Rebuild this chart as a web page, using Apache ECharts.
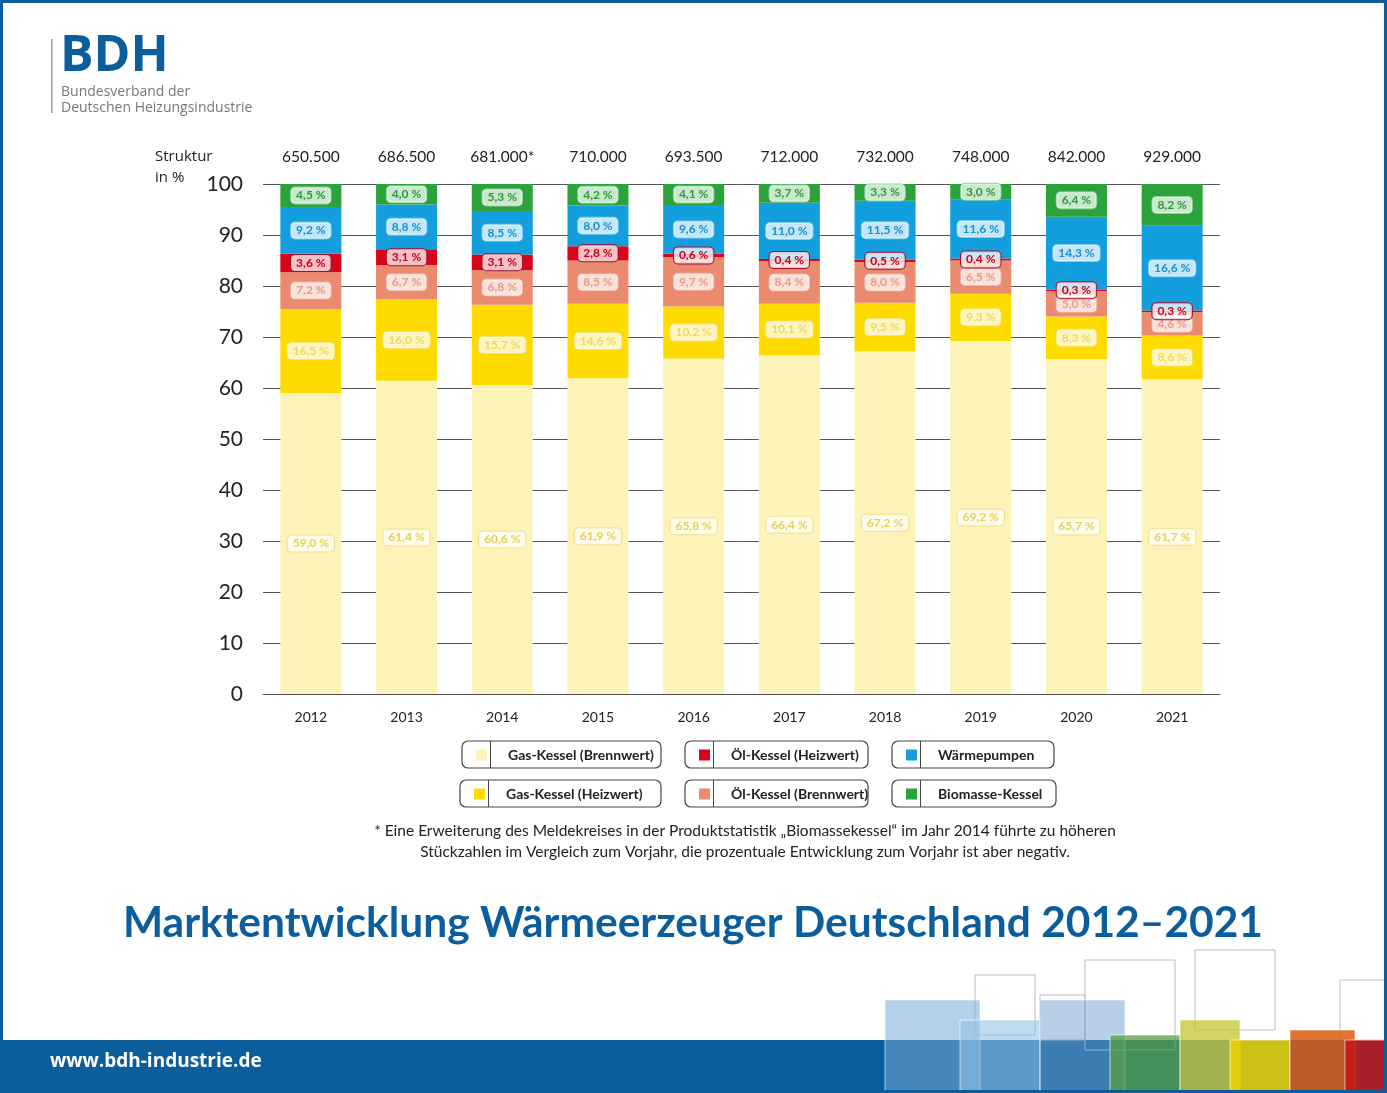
<!DOCTYPE html>
<html>
<head>
<meta charset="utf-8">
<script src="https://cdn.jsdelivr.net/npm/echarts@6/dist/echarts.min.js"></script>
<style>
  html, body { margin: 0; padding: 0; background: #fff; }
  #chart { width: 1387px; height: 1093px; }
</style>
</head>
<body>
<div id="chart"></div>
<script>
// Daten
var years = ['2012', '2013', '2014', '2015', '2016', '2017', '2018', '2019', '2020', '2021'];
var totals = ['650.500', '686.500', '681.000*', '710.000', '693.500', '712.000', '732.000', '748.000', '842.000', '929.000'];
var gasBrennwert = [59.0, 61.4, 60.6, 61.9, 65.8, 66.4, 67.2, 69.2, 65.7, 61.7];
var gasHeizwert = [16.5, 16.0, 15.7, 14.6, 10.2, 10.1, 9.5, 9.3, 8.3, 8.6];
var oelBrennwert = [7.2, 6.7, 6.8, 8.5, 9.7, 8.4, 8.0, 6.5, 5.0, 4.6];
var oelHeizwert = [3.6, 3.1, 3.1, 2.8, 0.6, 0.4, 0.5, 0.4, 0.3, 0.3];
var waermepumpen = [9.2, 8.8, 8.5, 8.0, 9.6, 11.0, 11.5, 11.6, 14.3, 16.6];
var biomasse = [4.5, 4.0, 5.3, 4.2, 4.1, 3.7, 3.3, 3.0, 6.4, 8.2];

var fontFamily = 'Lato, "Open Sans", sans-serif';
var blue = '#0b5d9b';

var seriesDefs = [
  {name: 'Gas-Kessel (Brennwert)', data: gasBrennwert, color: '#fdf2b8', text: '#e6cf5a', border: '#f3e08a'},
  {name: 'Gas-Kessel (Heizwert)', data: gasHeizwert, color: '#ffdc00', text: '#eed76a', border: '#f6e27a'},
  {name: 'Öl-Kessel (Brennwert)', data: oelBrennwert, color: '#ea8b6f', text: '#e79a86', border: '#f1b3a3'},
  {name: 'Öl-Kessel (Heizwert)', data: oelHeizwert, color: '#d9041b', text: '#c4001f', border: '#a01030'},
  {name: 'Wärmepumpen', data: waermepumpen, color: '#139fde', text: '#1a8fd2', border: '#7ccaf0'},
  {name: 'Biomasse-Kessel', data: biomasse, color: '#2ba33a', text: '#2f9a3c', border: '#8fd09a'}
];

// Legende: Position der Kästen
var legendBoxes = [
  {name: 'Gas-Kessel (Brennwert)', x: 462, y: 741, w: 199},
  {name: 'Öl-Kessel (Heizwert)', x: 685, y: 741, w: 183},
  {name: 'Wärmepumpen', x: 892, y: 741, w: 162},
  {name: 'Gas-Kessel (Heizwert)', x: 460, y: 780, w: 201},
  {name: 'Öl-Kessel (Brennwert)', x: 685, y: 780, w: 183},
  {name: 'Biomasse-Kessel', x: 892, y: 780, w: 164}
];

var chart = echarts.init(document.getElementById('chart'), null, {renderer: 'canvas'});

var series = seriesDefs.map(function (s) {
  return {
    name: s.name,
    type: 'bar',
    stack: 'total',
    barWidth: 61,
    data: s.data,
    itemStyle: {color: s.color},
    label: {
      show: true,
      position: 'inside',
      formatter: function (p) { return String(p.value.toFixed(1)).replace('.', ',') + ' %'; },
      color: s.text,
      fontFamily: fontFamily,
      fontSize: 12,
      fontWeight: 'bold',
      backgroundColor: 'rgba(255,255,255,0.75)',
      borderColor: s.border,
      borderWidth: 1,
      borderRadius: 4,
      padding: [2, 5]
    }
  };
});

var graphics = [
  // Rahmen
  {type: 'rect', shape: {x: 1.5, y: 1.5, width: 1384, height: 1090}, style: {fill: 'none', stroke: blue, lineWidth: 3}, z: 10},
  // Logo
  {type: 'rect', shape: {x: 51, y: 39, width: 1.5, height: 74}, style: {fill: '#999'}},
  {type: 'text', x: 60, y: 32, style: {text: 'BDH', font: 'bold 50px "Open Sans", sans-serif', fill: blue}},
  {type: 'text', x: 61, y: 84, style: {text: 'Bundesverband der\nDeutschen Heizungsindustrie', font: '14px "Open Sans", sans-serif', fill: '#777', lineHeight: 16}},
  {type: 'text', x: 155, y: 146, style: {text: 'Struktur\nin %', font: '15px "Open Sans", sans-serif', fill: '#222', lineHeight: 21}},
  // Fußnote
  {type: 'text', x: 745, y: 820, style: {text: '* Eine Erweiterung des Meldekreises in der Produktstatistik \u201eBiomassekessel\u201c im Jahr 2014 führte zu höheren\nStückzahlen im Vergleich zum Vorjahr, die prozentuale Entwicklung zum Vorjahr ist aber negativ.', font: '15.5px Lato, sans-serif', fill: '#222', lineHeight: 21, align: 'center'}},
  // Titel
  {type: 'text', x: 693, y: 902, style: {text: 'Marktentwicklung Wärmeerzeuger Deutschland 2012\u20132021', font: 'bold 42.5px Lato, sans-serif', fill: blue, align: 'center'}},
  // Fußleiste
  {type: 'rect', shape: {x: 0, y: 1040, width: 1387, height: 53}, style: {fill: blue}},
  {type: 'text', x: 50, y: 1052, style: {text: 'www.bdh-industrie.de', font: 'bold 19px "Open Sans", sans-serif', fill: '#fff'}}
];

// Würfel-Dekoration unten rechts
var cubes = [
  {x: 885, y: 1000, s: 95, c: 'rgba(120,170,215,0.55)'},
  {x: 960, y: 1020, s: 80, c: 'rgba(150,195,230,0.6)'},
  {x: 1040, y: 1000, s: 85, c: 'rgba(110,160,205,0.5)'},
  {x: 1110, y: 1035, s: 70, c: 'rgba(90,160,70,0.75)'},
  {x: 1180, y: 1020, s: 60, c: 'rgba(200,200,60,0.8)'},
  {x: 1230, y: 1040, s: 60, c: 'rgba(240,210,0,0.85)'},
  {x: 1290, y: 1030, s: 65, c: 'rgba(220,90,20,0.85)'},
  {x: 1345, y: 1040, s: 45, c: 'rgba(200,20,20,0.85)'}
];
cubes.forEach(function (q) {
  graphics.push({type: 'rect', shape: {x: q.x, y: q.y, width: q.s, height: 1093 - q.y}, style: {fill: q.c, stroke: 'rgba(255,255,255,0.6)', lineWidth: 1}, z: 5});
});
var outline = [
  {x: 975, y: 975, s: 60}, {x: 1085, y: 960, s: 90}, {x: 1195, y: 950, s: 80}, {x: 1340, y: 980, s: 60}, {x: 1040, y: 995, s: 45}
];
outline.forEach(function (q) {
  graphics.push({type: 'rect', shape: {x: q.x, y: q.y, width: q.s, height: q.s}, style: {fill: 'none', stroke: '#bbb', lineWidth: 1}, z: 4});
});

// Legendenkästen
legendBoxes.forEach(function (b) {
  graphics.push({type: 'rect', shape: {x: b.x, y: b.y, width: b.w, height: 27, r: 6}, style: {fill: '#fff', stroke: '#444', lineWidth: 1.2}, z: 0});
  graphics.push({type: 'rect', shape: {x: b.x + 28, y: b.y, width: 1, height: 27}, style: {fill: '#444'}, z: 1});
});

var legends = legendBoxes.map(function (b) {
  return {
    data: [b.name],
    left: b.x + 9,
    top: b.y + 2,
    itemWidth: 11,
    itemHeight: 11,
    itemGap: 0,
    icon: 'rect',
    selectedMode: false,
    textStyle: {fontFamily: fontFamily, fontSize: 14, fontWeight: 'bold', color: '#222', padding: [0, 0, 0, 16]}
  };
});

var option = {
  animation: false,
  backgroundColor: '#fff',
  grid: {left: 263, right: 167, top: 184, bottom: 399},
  legend: legends,
  xAxis: [
    {
      type: 'category',
      data: years,
      axisTick: {show: false},
      axisLine: {show: true, lineStyle: {color: '#555', width: 1}},
      axisLabel: {fontFamily: fontFamily, fontSize: 14, color: '#222', margin: 16}
    },
    {
      type: 'category',
      position: 'top',
      data: totals,
      axisTick: {show: false},
      axisLine: {show: false},
      axisLabel: {fontFamily: fontFamily, fontSize: 15.5, color: '#222', margin: 19}
    }
  ],
  yAxis: {
    type: 'value',
    min: 0,
    max: 100,
    interval: 10,
    axisLine: {show: false},
    axisTick: {show: false},
    splitLine: {lineStyle: {color: '#555', width: 1}},
    axisLabel: {fontFamily: fontFamily, fontSize: 21, color: '#222', margin: 20}
  },
  series: series,
  graphic: graphics
};

chart.setOption(option);
</script>
</body>
</html>
